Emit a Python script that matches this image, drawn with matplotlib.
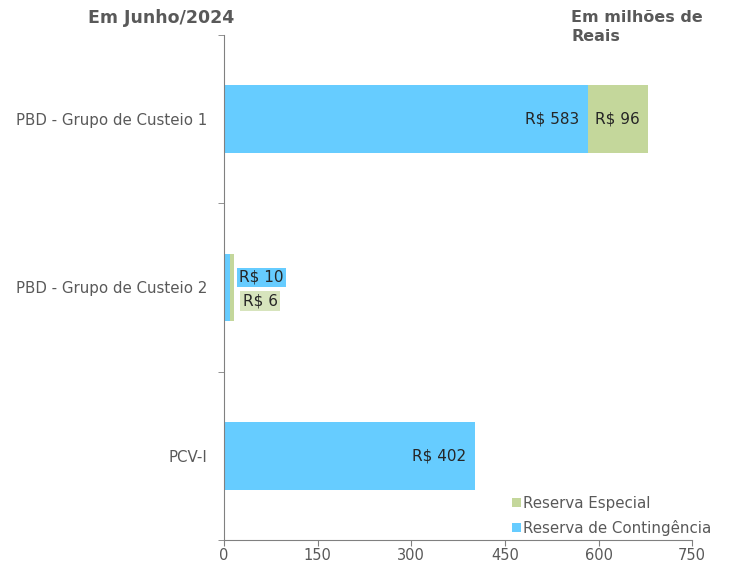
import matplotlib.pyplot as plt
import numpy as np

categories = ["PBD - Grupo de Custeio 1", "PBD - Grupo de Custeio 2", "PCV-I"]
contingencia = [583, 10, 402]
especial = [96, 6, 0]
xticks = [0, 150, 300, 450, 600, 750]

C_BLUE, C_GREEN, C_GREEN_LT = "#66CCFF", "#C4D79B", "#D7E4BD"
TXT = "#595959"
plt.rcParams.update({"font.family": "DejaVu Sans", "text.color": TXT})

fig = plt.figure(figsize=(7.34, 5.62), dpi=100)
ax = fig.add_axes([0.305, 0.039, 0.638, 0.899])

y = np.arange(len(categories))[::-1]
ax.barh(y, contingencia, height=0.4, color=C_BLUE, label="Reserva de Contingência")
ax.barh(y, especial, left=contingencia, height=0.4, color=C_GREEN, label="Reserva Especial")

ax.set_xlim(0, 750)
ax.set_ylim(-0.5, 2.5)
ax.set_xticks(xticks)
ax.set_xticklabels([str(t) for t in xticks], fontsize=10.5, color=TXT)
ax.set_yticks(y)
ax.set_yticklabels(categories, fontsize=10.8, color=TXT)
ax.tick_params(axis="y", length=0, pad=12)
ax.tick_params(axis="x", length=4, color="#808080", pad=2)
ax.set_yticks([-0.5, 0.5, 1.5, 2.5], minor=True)
ax.tick_params(axis="y", which="minor", length=4, color="#808080")
for s in ["top", "right"]:
    ax.spines[s].set_visible(False)
for s in ["left", "bottom"]:
    ax.spines[s].set_color("#808080")

# value labels
for yi, c, e in zip(y, contingencia, especial):
    if c >= 100:
        ax.text(c - 14, yi, f"R$ {c}", ha="right", va="center", fontsize=11, color="#262626")
        if e:
            ax.text(c + e / 2, yi, f"R$ {e}", ha="center", va="center", fontsize=11, color="#262626")
    else:
        ax.text(c + e + 8, yi + 0.06, f"R$ {c}", ha="left", va="center", fontsize=11, color="#262626",
                bbox=dict(boxstyle="square,pad=0.15", fc=C_BLUE, ec="none"))
        ax.text(c + e + 14, yi - 0.08, f"R$ {e}", ha="left", va="center", fontsize=11, color="#262626",
                bbox=dict(boxstyle="square,pad=0.15", fc=C_GREEN_LT, ec="none"))

h, l = ax.get_legend_handles_labels()
ax.legend(h[::-1], l[::-1], loc="lower right", bbox_to_anchor=(1.07, -0.018), frameon=False,
          fontsize=10.8, handlelength=0.6, handleheight=0.6, handletextpad=0.15, labelspacing=0.6,
          labelcolor=TXT)

fig.text(0.12, 0.968, "Em Junho/2024", fontsize=12.5, fontweight="bold", color=TXT, va="center")
fig.text(0.778, 0.968, "Em milhões de", fontsize=11.5, fontweight="bold", color=TXT, va="center")
fig.text(0.778, 0.935, "Reais", fontsize=11.5, fontweight="bold", color=TXT, va="center")

fig.savefig("out.png")
